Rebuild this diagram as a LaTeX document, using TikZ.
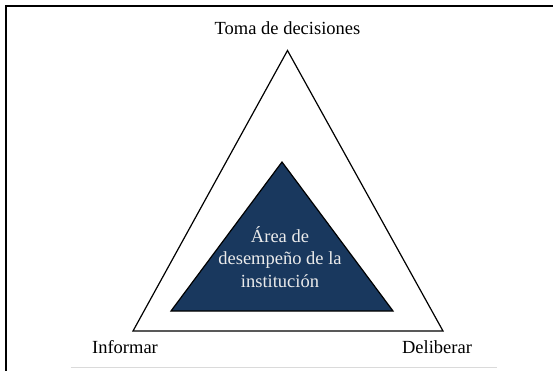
\documentclass[tikz,border=0pt]{standalone}
\usepackage{fontspec}
\setmainfont{Liberation Serif}
\definecolor{areablue}{RGB}{25,56,94}
\definecolor{rulegray}{RGB}{218,218,218}

\begin{document}
\begin{tikzpicture}[x=1pt,y=-1pt]
\tikzstyle{every node}+=[inner sep=0pt]
\tikzstyle{vertex label}=[font=\fontsize{18.5}{22.5}\selectfont]
\useasboundingbox (0,0) rectangle (553,370);
\draw [black, line width=2pt] (6,372) -- (6,5.5) -- (556,5.5);
\coordinate (top) at (287.5,50.5);
\coordinate (left) at (133,331);
\coordinate (right) at (443,331);
\draw [black, line width=1.2pt, line join=miter] (top) -- (right) -- (left) -- cycle;
\coordinate (itop) at (282,162);
\coordinate (ileft) at (171,311);
\coordinate (iright) at (393,311);
\filldraw [fill=areablue, draw=black, line width=1.2pt] (itop) -- (iright) -- (ileft) -- cycle;
\node [vertex label] (decidir) at (287.5,28) {Toma de decisiones};
\node [vertex label] (informar) at (125,347) {Informar};
\node [vertex label] (deliberar) at (437,347) {Deliberar};
\node [vertex label, text=white!92!black, align=center] (area) at (280,257)
  {Área de\\desempeño de la\\institución};
\coordinate (ruleL) at (70.5,367.5);
\coordinate (ruleR) at (497,367.5);
\draw [rulegray, line width=1pt] (ruleL) -- (ruleR);
\end{tikzpicture}
\end{document}
